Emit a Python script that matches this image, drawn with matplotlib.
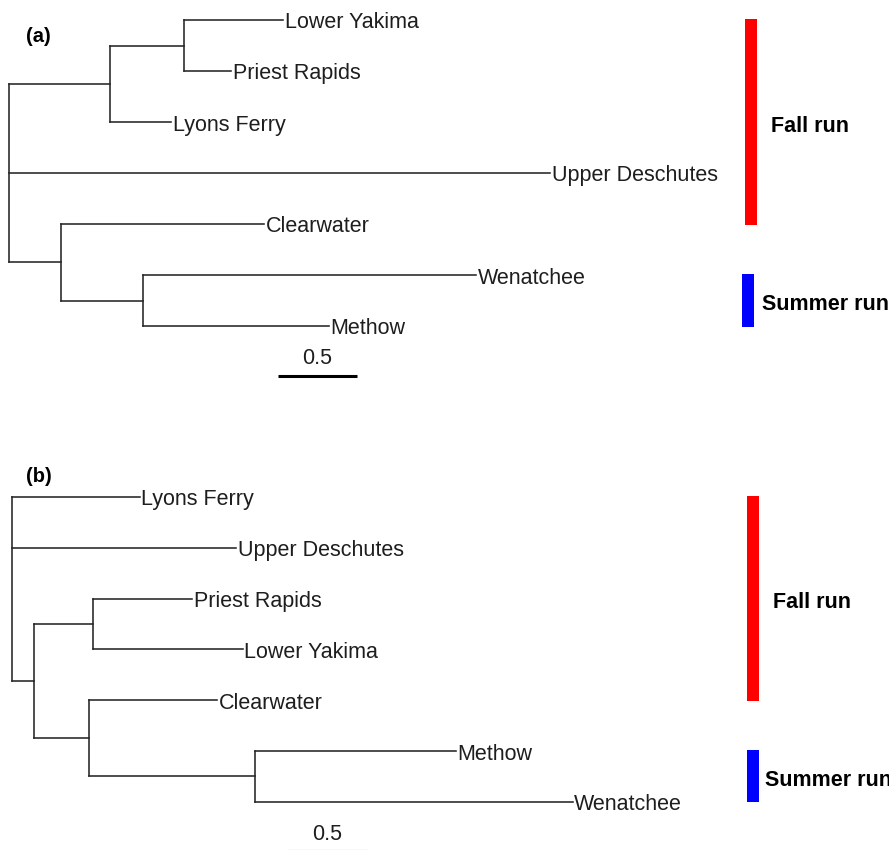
import matplotlib
matplotlib.use("Agg")
import matplotlib.pyplot as plt

plt.rcParams["font.family"] = ["Liberation Sans", "DejaVu Sans"]

# ---- Tree (a): nodes listed depth-first; leaf order follows this list ----
a_nodes = ["root", "n1", "n2", "Lower Yakima", "Priest Rapids", "Lyons Ferry",
           "Upper Deschutes", "n3", "Clearwater", "n4", "Wenatchee", "Methow"]
a_parents = [None, "root", "n1", "n2", "n2", "n1",
             "root", "root", "n3", "n3", "n4", "n4"]
a_lengths = [0.0, 0.64, 0.47, 0.63, 0.30, 0.39,
             3.43, 0.33, 1.29, 0.52, 2.11, 1.18]

# ---- Tree (b) ----
b_nodes = ["root", "Lyons Ferry", "Upper Deschutes", "m1", "m2", "Priest Rapids",
           "Lower Yakima", "m3", "Clearwater", "m4", "Methow", "Wenatchee"]
b_parents = [None, "root", "root", "root", "m1", "m2",
             "m2", "m1", "m3", "m3", "m4", "m4"]
b_lengths = [0.0, 0.81, 1.42, 0.14, 0.37, 0.63,
             0.95, 0.35, 0.81, 1.05, 1.27, 2.01]

# Run-timing groups (leaf index ranges, top to bottom)
group_names = ["Fall run", "Summer run"]
group_colors = ["#ff0000", "#0000ff"]
a_group_leaves = [(0, 4), (5, 6)]
b_group_leaves = [(0, 4), (5, 6)]

scale_value = 0.5

W, H = 889, 850
PX_PER_UNIT = 158.0
LINE_COLOR = "#262626"
TEXT_COLOR = "#1e1e1e"
FS = 15.5
TEXT_DROP = 3.0  # px: labels sit slightly below the branch line

fig = plt.figure(figsize=(W / 100, H / 100), dpi=100)


def layout(nodes, parents, lengths):
    x, children = {}, {n: [] for n in nodes}
    for n, p, L in zip(nodes, parents, lengths):
        x[n] = 0.0 if p is None else x[p] + L
        if p is not None:
            children[p].append(n)
    y, k = {}, 0
    for n in nodes:
        if not children[n]:
            y[n] = k
            k += 1

    def place(n):
        if n in y:
            return y[n]
        ys = [place(c) for c in children[n]]
        y[n] = (min(ys) + max(ys)) / 2
        return y[n]

    place(nodes[0])
    return x, y, children


def panel(top, bottom, root_px, first_leaf_px, spacing_px, nodes, parents,
          lengths, groups, bar_px, label_px, tag, tag_px, scale_px, scale_y_px,
          scale_label_px):
    ax = fig.add_axes([0, 1 - bottom / H, 1, (bottom - top) / H])
    ax.set_xlim(-root_px / PX_PER_UNIT, (W - root_px) / PX_PER_UNIT)
    ax.set_ylim((bottom - first_leaf_px) / spacing_px,
                (top - first_leaf_px) / spacing_px)
    ax.axis("off")

    def ux(px):
        return (px - root_px) / PX_PER_UNIT

    def uy(py):
        return (py - first_leaf_px) / spacing_px

    drop = TEXT_DROP / spacing_px
    x, y, children = layout(nodes, parents, lengths)
    for n in nodes:
        kids = children[n]
        if kids:
            ys = [y[c] for c in kids]
            ax.plot([x[n], x[n]], [min(ys), max(ys)], color=LINE_COLOR,
                    lw=1.15, solid_capstyle="projecting")
            for c in kids:
                ax.plot([x[n], x[c]], [y[c], y[c]], color=LINE_COLOR,
                        lw=1.15, solid_capstyle="projecting")
        else:
            ax.text(x[n] + 1.5 / PX_PER_UNIT, y[n] + drop, n, fontsize=FS,
                    color=TEXT_COLOR, ha="left", va="center")

    # group bars with labels
    for (i0, i1), name, col, bx, (lx, ly) in zip(groups, group_names,
                                                 group_colors, bar_px, label_px):
        ax.fill_betweenx([i0 - 0.01, i1 + 0.01], ux(bx - 6), ux(bx + 6),
                         color=col, lw=0)
        ax.text(ux(lx), uy(ly), name, fontsize=FS, fontweight="bold",
                color="black", ha="left", va="center")

    ax.text(ux(tag_px[0]), uy(tag_px[1]), tag, fontsize=14.5, fontweight="bold",
            color="black", ha="left", va="center")

    # scale bar
    sx0 = ux(scale_px)
    ax.plot([sx0, sx0 + scale_value], [uy(scale_y_px)] * 2, color="black",
            lw=2.2, solid_capstyle="butt", clip_on=False)
    ax.text(sx0 + scale_value / 2, uy(scale_label_px), f"{scale_value}",
            fontsize=FS, color=TEXT_COLOR, ha="center", va="center")
    return ax


panel(0, 425, 8.5, 20, 51.0, a_nodes, a_parents, a_lengths, a_group_leaves,
      bar_px=[751, 748], label_px=[(771, 126), (762, 304)],
      tag="(a)", tag_px=(26, 36), scale_px=278, scale_y_px=376,
      scale_label_px=359)

panel(425, 850, 12, 497, 50.8, b_nodes, b_parents, b_lengths, b_group_leaves,
      bar_px=[753, 753], label_px=[(773, 602), (765, 781)],
      tag="(b)", tag_px=(26, 476), scale_px=288, scale_y_px=851,
      scale_label_px=835)

fig.savefig("out.png", dpi=100)
